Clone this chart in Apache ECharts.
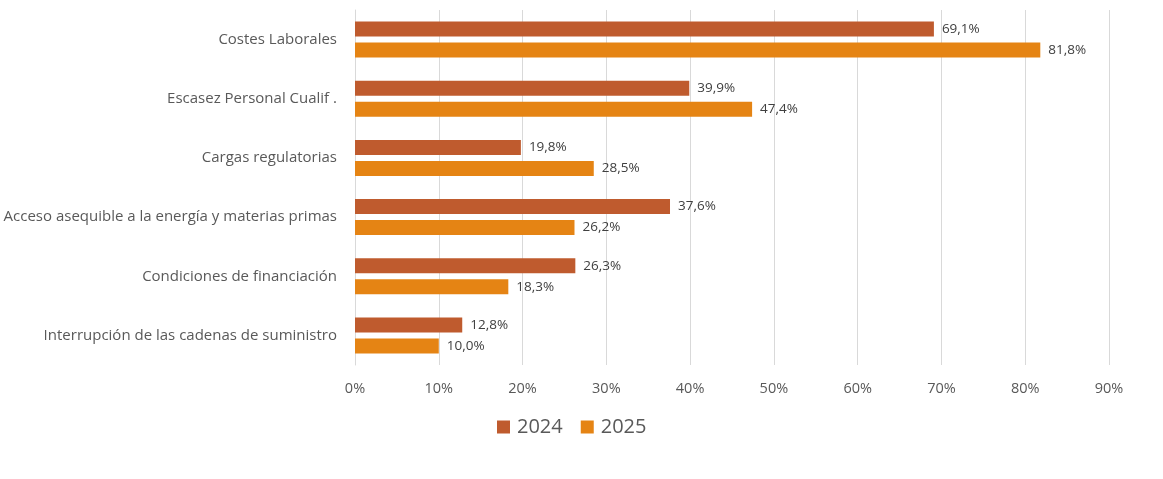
<!DOCTYPE html>
<html>
<head>
<meta charset="utf-8">
<script src="https://cdn.jsdelivr.net/npm/echarts@6/dist/echarts.min.js"></script>
<style>html,body{margin:0;padding:0;background:#fff;}#c{width:1163px;height:479px;}</style>
</head>
<body>
<div id="c"></div>
<script>
const categories = ["Costes Laborales", "Escasez Personal Cualif .", "Cargas regulatorias", "Acceso asequible a la energía y materias primas", "Condiciones de financiación", "Interrupción de las cadenas de suministro"];
const values2024 = [69.1, 39.9, 19.8, 37.6, 26.3, 12.8];
const values2025 = [81.8, 47.4, 28.5, 26.2, 18.3, 10.0];
const seriesNames = ["2024", "2025"];
const colors = ["#BF5B2E", "#E58414"];
const fontFam = "'Open Sans', 'Noto Sans', sans-serif";
const txt = "#595959";
const fmt = p => p.value.toFixed(1).replace('.', ',') + '%';

const chart = echarts.init(document.getElementById('c'), null, {renderer: 'canvas'});
chart.setOption({
  animation: false,
  grid: {left: 355, right: 54, top: 10, height: 355, containLabel: false},
  legend: {
    data: seriesNames,
    left: 492, top: 412,
    itemWidth: 13, itemHeight: 13, itemGap: 18,
    icon: 'rect',
    textStyle: {color: txt, fontSize: 20, fontFamily: fontFam, padding: [0, 0, 0, 2]}
  },
  xAxis: {
    type: 'value', min: 0, max: 90, interval: 10,
    axisLine: {show: false}, axisTick: {show: false},
    splitLine: {lineStyle: {color: '#d9d9d9', width: 1}},
    axisLabel: {formatter: v => v + '%', color: txt, fontSize: 14.5, fontFamily: fontFam, margin: 16}
  },
  yAxis: {
    type: 'category', data: categories, inverse: true,
    axisLine: {show: true, lineStyle: {color: '#d9d9d9'}},
    axisTick: {show: false},
    axisLabel: {color: txt, fontSize: 15, fontFamily: fontFam, margin: 18, align: 'right'}
  },
  series: [
    {name: seriesNames[0], type: 'bar', data: values2024, barWidth: 15, barGap: '40%',
     itemStyle: {color: colors[0]},
     label: {show: true, position: 'right', formatter: fmt, color: '#404040', fontSize: 13.5, fontFamily: fontFam, distance: 8}},
    {name: seriesNames[1], type: 'bar', data: values2025, barWidth: 15,
     itemStyle: {color: colors[1]},
     label: {show: true, position: 'right', formatter: fmt, color: '#404040', fontSize: 13.5, fontFamily: fontFam, distance: 8}}
  ]
});
</script>
</body>
</html>
